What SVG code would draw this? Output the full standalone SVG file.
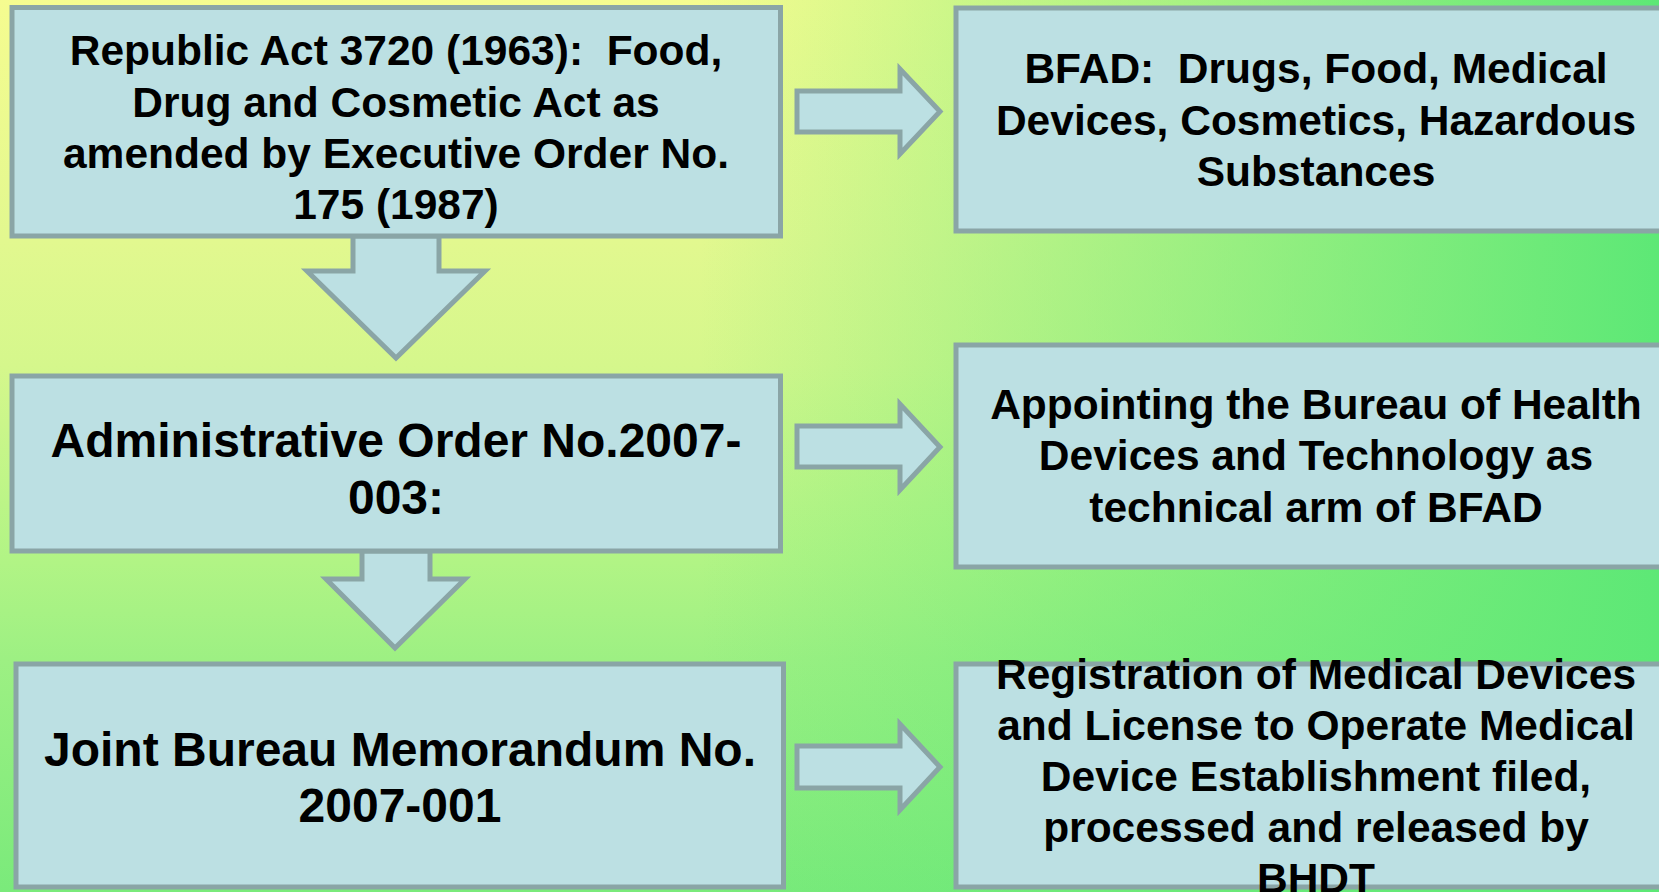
<svg xmlns="http://www.w3.org/2000/svg" width="1659" height="892" viewBox="0 0 1659 892">
  <defs>
    <linearGradient id="bgV" x1="0" y1="0" x2="0" y2="892" gradientUnits="userSpaceOnUse">
      <stop offset="0" stop-color="#f5fc90"/>
      <stop offset="0.27" stop-color="#e2f88f"/>
      <stop offset="0.41" stop-color="#d5f78c"/>
      <stop offset="0.63" stop-color="#b1f485"/>
      <stop offset="0.74" stop-color="#9df083"/>
      <stop offset="1" stop-color="#7aea7b"/>
    </linearGradient>
    <linearGradient id="bgH" x1="700" y1="0" x2="1659" y2="0" gradientUnits="userSpaceOnUse">
      <stop offset="0" stop-color="#5de876" stop-opacity="0"/>
      <stop offset="1" stop-color="#5de876" stop-opacity="1"/>
    </linearGradient>
    <style>
      .box { fill: #bce0e3; stroke: #8aa5a6; stroke-width: 5; }
      .arr { fill: #bce0e3; stroke: #8aa5a6; stroke-width: 5; stroke-linejoin: miter; }
      .t { font-family: "Liberation Sans", Arial, sans-serif; font-weight: bold; fill: #000; text-anchor: middle; }
      .s { font-size: 42.5px; }
      .l { font-size: 48px; }
    </style>
  </defs>

  <rect x="0" y="0" width="1659" height="892" fill="url(#bgV)"/>
  <rect x="0" y="0" width="1659" height="892" fill="url(#bgH)"/>

  <g id="connectors">
    <polygon class="arr" points="353,236 353,271 307,271 396,358 485,271 439,271 439,236"/>
    <polygon class="arr" points="362,551 362,579 326,579 395,648 465,579 430,579 430,551"/>
    <polygon class="arr" points="797,91 900,91 900,69 940,111.5 900,154 900,132 797,132"/>
    <polygon class="arr" points="797,426 900,426 900,404 940,447 900,490 900,467 797,467"/>
    <polygon class="arr" points="797,746 900,746 900,724 940,767 900,810 900,788 797,788"/>
  </g>

  <g id="node-ra3720">
    <rect class="box" x="12" y="7.5" width="768.5" height="228.5"/>
    <text class="t s" xml:space="preserve"><tspan x="396" y="65">Republic Act 3720 (1963):  Food,</tspan><tspan x="396" y="117">Drug and Cosmetic Act as</tspan><tspan x="396" y="168">amended by Executive Order No.</tspan><tspan x="396" y="219">175 (1987)</tspan></text>
  </g>

  <g id="node-ao2007">
    <rect class="box" x="12" y="376" width="768.5" height="175"/>
    <text class="t l"><tspan x="396" y="457">Administrative Order No.2007-</tspan><tspan x="396" y="514">003:</tspan></text>
  </g>

  <g id="node-jbm2007">
    <rect class="box" x="16" y="664" width="767.5" height="223"/>
    <text class="t l"><tspan x="400" y="765.5">Joint Bureau Memorandum No.</tspan><tspan x="400" y="822">2007-001</tspan></text>
  </g>

  <g id="node-bfad">
    <rect class="box" x="956" y="8" width="760" height="223"/>
    <text class="t s" xml:space="preserve"><tspan x="1316" y="83">BFAD:  Drugs, Food, Medical</tspan><tspan x="1316" y="135">Devices, Cosmetics, Hazardous</tspan><tspan x="1316" y="186">Substances</tspan></text>
  </g>

  <g id="node-bhdt">
    <rect class="box" x="956" y="345" width="760" height="222"/>
    <text class="t s"><tspan x="1316" y="419">Appointing the Bureau of Health</tspan><tspan x="1316" y="470">Devices and Technology as</tspan><tspan x="1316" y="522">technical arm of BFAD</tspan></text>
  </g>

  <g id="node-registration">
    <rect class="box" x="956" y="664" width="760" height="223"/>
    <text class="t s"><tspan x="1316" y="688.5">Registration of Medical Devices</tspan><tspan x="1316" y="739.5">and License to Operate Medical</tspan><tspan x="1316" y="790.5">Device Establishment filed,</tspan><tspan x="1316" y="841.5">processed and released by</tspan><tspan x="1316" y="892.5">BHDT</tspan></text>
  </g>
</svg>
